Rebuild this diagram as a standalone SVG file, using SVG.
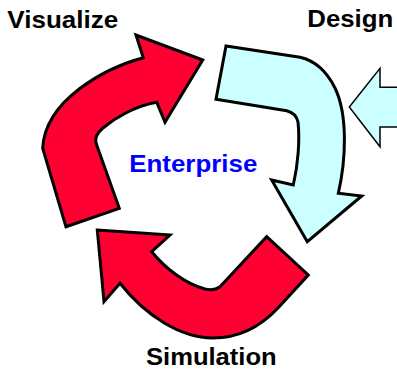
<svg xmlns="http://www.w3.org/2000/svg" width="397" height="370" viewBox="0 0 397 370">
<style>
.lbl{font-family:"Liberation Sans",Arial,sans-serif;font-weight:bold;font-size:24px;fill:#000}
.blue{fill:#0000ff}
.red{fill:#ff0033;stroke:#000;stroke-width:3;stroke-linejoin:miter}
.cyan{fill:#ccffff;stroke:#000;stroke-width:3;stroke-linejoin:miter}
.thin{fill:#ccffff;stroke:#000;stroke-width:1.5;stroke-linejoin:miter}
</style>
<rect width="397" height="370" fill="#fff"/>
<g id="connectors">
<path id="arrow-visualize" class="red" d="M202.7,60 L136,35 L143.3,57.7 C105,68 45,100 42.7,148.3 L66,226.7 L119.3,208.3 L96.7,145 Q93,136 103,128 C115,118 135,106 156.7,102.3 L165,122.3 Z"/>
<path id="arrow-design" class="cyan" d="M226,46 L216,99.3 L286.7,110.7 Q296,113 298,122 C300,140 298,165 293.3,185 L271.7,180 L307.3,241.7 L361.7,196 L338.3,193.3 C346,160 348,115 335,88 C325,68 312,60 300,57.3 Z"/>
<path id="arrow-simulation" class="red" d="M97.3,230 L170,235 L151.7,251.7 C165,268 185,284 205,289 Q214,291 220,286.7 L266.7,236.7 L308.3,275 L278,308 C262,325 240,338 213,338 C180,338 145,315 120,283.3 L104,301.7 Z"/>
<path id="arrow-input" class="thin" d="M400,87.3 L380,87.3 L380,68.3 L349.3,107 L380,146.7 L380,126.9 L400,126.9"/>
</g>
<g id="node-visualize"><text class="lbl" x="7.3" y="28.3" textLength="111" lengthAdjust="spacingAndGlyphs">Visualize</text></g>
<g id="node-design"><text class="lbl" x="307.3" y="27" textLength="86" lengthAdjust="spacingAndGlyphs">Design</text></g>
<g id="node-enterprise"><text class="lbl blue" x="129.3" y="172.3" textLength="128" lengthAdjust="spacingAndGlyphs">Enterprise</text></g>
<g id="node-simulation"><text class="lbl" x="146" y="365" textLength="130.7" lengthAdjust="spacingAndGlyphs">Simulation</text></g>
</svg>
